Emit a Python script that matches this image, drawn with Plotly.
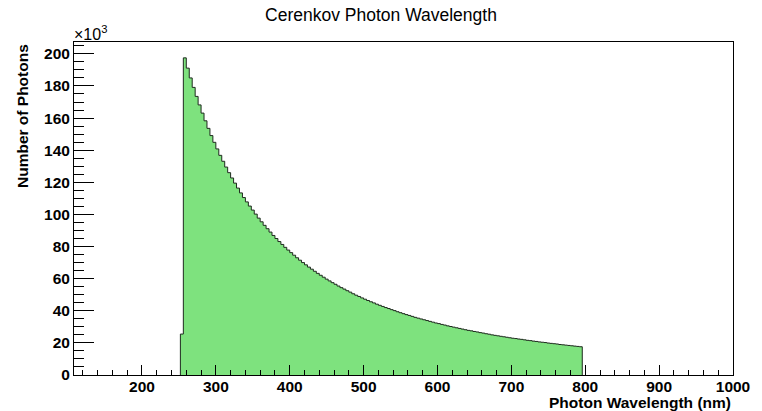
import plotly.graph_objects as go

# Histogram data (bin width 4 nm, first lower edge 252 nm), counts in thousands
bin_start = 252
bin_width = 4
counts_k = [
    25.5, 197.5, 191.1, 185.0, 179.1, 173.5, 168.2, 163.1, 158.3, 153.6,
    149.1, 144.9, 140.8, 136.8, 133.1, 129.5, 126.0, 122.7, 119.5, 116.4,
    113.4, 110.5, 107.8, 105.2, 102.7, 100.2, 97.7, 95.4, 93.2, 91.1,
    89.0, 86.9, 85.0, 83.1, 81.3, 79.5, 77.8, 76.2, 74.6, 73.0,
    71.5, 70.0, 68.6, 67.2, 65.9, 64.6, 63.3, 62.1, 60.9, 59.7,
    58.6, 57.5, 56.5, 55.4, 54.4, 53.5, 52.5, 51.6, 50.6, 49.7,
    48.9, 48.0, 47.2, 46.4, 45.6, 44.9, 44.1, 43.4, 42.7, 42.0,
    41.4, 40.7, 40.1, 39.4, 38.8, 38.2, 37.6, 37.1, 36.5, 35.9,
    35.4, 34.9, 34.4, 33.9, 33.4, 32.9, 32.4, 32.0, 31.5, 31.1,
    30.6, 30.2, 29.8, 29.4, 29.0, 28.6, 28.2, 27.8, 27.5, 27.1,
    26.8, 26.4, 26.1, 25.7, 25.4, 25.0, 24.7, 24.4, 24.1, 23.8,
    23.5, 23.2, 22.9, 22.7, 22.4, 22.2, 21.9, 21.6, 21.4, 21.1,
    20.9, 20.6, 20.4, 20.2, 19.9, 19.7, 19.5, 19.3, 19.0, 18.8,
    18.6, 18.4, 18.2, 18.0, 17.8, 17.6,
]
x_min, x_max = 108, 1000
title_text = "Cerenkov Photon Wavelength"
x_title = "Photon Wavelength (nm)"
y_title = "Number of Photons"

# Build stepped outline from bin edges
edges = [bin_start + i * bin_width for i in range(len(counts_k) + 1)]
xs = [edges[0]] + edges[:-1] + [edges[-1], edges[-1]]
ys = [0] + counts_k + [counts_k[-1], 0]

y_max = max(counts_k) * 1.05

fig = go.Figure()
fig.add_trace(go.Scatter(
    x=xs, y=ys, mode="lines", line=dict(shape="hv", color="#1e2a1e", width=1),
    fill="tozeroy", fillcolor="#7ee27e", hoverinfo="skip", showlegend=False,
))

tick_font = dict(family="Liberation Sans", size=15.5, color="black", weight="bold")
fig.update_layout(
    width=762, height=411,
    margin=dict(l=74, r=26, t=42, b=36),
    paper_bgcolor="white", plot_bgcolor="white",
    font=dict(family="Liberation Sans", color="black"),
    title=dict(text=title_text, x=0.5, xanchor="center", y=0.978, yanchor="top",
               font=dict(family="Liberation Sans", size=17.5, color="black")),
    xaxis=dict(
        range=[x_min, x_max + 0.01], showgrid=False, zeroline=False,
        showline=True, linecolor="black", linewidth=1, mirror=True,
        ticks="inside", ticklen=10, tickcolor="black", tickwidth=1,
        tick0=0, dtick=100, ticklabelstandoff=-3,
        minor=dict(ticks="inside", ticklen=5, dtick=20, tick0=0, tickcolor="black", showgrid=False),
        tickfont=tick_font,
    ),
    yaxis=dict(
        range=[0, y_max], showgrid=False, zeroline=False,
        showline=True, linecolor="black", linewidth=1, mirror=True,
        ticks="inside", ticklen=20, tickcolor="black", tickwidth=1,
        tick0=0, dtick=20,
        minor=dict(ticks="inside", ticklen=10, dtick=5, tick0=0, tickcolor="black", showgrid=False),
        tickfont=tick_font,
    ),
    annotations=[
        dict(text="<b>" + x_title + "</b>", xref="paper", yref="paper", x=1, y=0,
             xanchor="right", yanchor="middle", yshift=-27.5, showarrow=False,
             font=dict(family="Liberation Sans", size=15.5, color="black")),
        dict(text="<b>" + y_title + "</b>", xref="paper", yref="paper", x=0, y=1,
             xanchor="center", yanchor="top", xshift=-52, textangle=-90, showarrow=False,
             font=dict(family="Liberation Sans", size=15.5, color="black")),
        dict(text="×10<sup>3</sup>", xref="paper", yref="paper", x=0, y=1,
             xanchor="left", yanchor="bottom", yshift=-3, xshift=-2, showarrow=False,
             font=dict(family="Liberation Sans", size=16, color="black")),
    ],
)

fig.write_html("out.html")
